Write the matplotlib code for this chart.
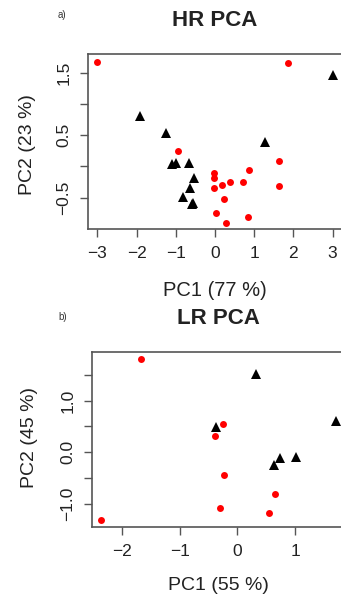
import numpy as np
import matplotlib
matplotlib.use("Agg")
import matplotlib.pyplot as plt

plt.rcParams['font.family'] = ['Liberation Sans', 'DejaVu Sans']

# HR PCA scores
hr_red_pc1 = [-3.0, 1.86, -0.94, 1.64, 1.64, 0.86, -0.03, -0.03, -0.03, 0.19, 0.39, 0.72, 0.22, 0.02, 0.29, 0.83]
hr_red_pc2 = [1.67, 1.66, 0.24, 0.08, -0.31, -0.06, -0.10, -0.18, -0.34, -0.30, -0.25, -0.25, -0.53, -0.74, -0.90, -0.81]
hr_blk_pc1 = [3.0, -1.92, -1.25, 1.27, -1.09, -0.99, -0.67, -0.53, -0.65, -0.81, -0.57, -0.58]
hr_blk_pc2 = [1.46, 0.80, 0.54, 0.39, 0.04, 0.06, 0.05, -0.19, -0.35, -0.49, -0.58, -0.60]

# LR PCA scores
lr_red_pc1 = [-1.67, -2.37, -0.25, -0.39, -0.24, -0.31, 0.65, 0.54]
lr_red_pc2 = [1.80, -1.30, 0.55, 0.32, -0.43, -1.08, -0.80, -1.18]
lr_blk_pc1 = [0.32, -0.37, 1.70, 0.73, 1.02, 0.63]
lr_blk_pc2 = [1.51, 0.49, 0.60, -0.12, -0.10, -0.25]

hr_xticks = [-3, -2, -1, 0, 1, 2, 3]
hr_yticks = [-0.5, 0.0, 0.5, 1.0, 1.5]
hr_ylabels = ['\u22120.5', '', '0.5', '', '1.5']
lr_xticks = [-2, -1, 0, 1]
lr_yticks = [-1.0, -0.5, 0.0, 0.5, 1.0, 1.5]
lr_ylabels = ['\u22121.0', '', '0.0', '', '1.0', '']

W, H = 341, 599
fig = plt.figure(figsize=(W / 100, H / 100), dpi=100)


def px_axes(l, t, r, b):
    return fig.add_axes([l / W, 1 - b / H, (r - l) / W, (b - t) / H])


def style(ax, xticks, yticks, ylabels):
    for s in ax.spines.values():
        s.set_color('#555555')
        s.set_linewidth(1.2)
    ax.set_xticks(xticks)
    ax.set_xticklabels([str(t).replace('-', '\u2212') for t in xticks])
    ax.set_yticks(yticks)
    ax.set_yticklabels(ylabels, rotation=90, va='center')
    ax.tick_params(direction='out', length=6, width=1, color='#555555',
                   labelsize=12.5, labelcolor='#222222', pad=6)


ax1 = px_axes(88, 54, 342, 229)
ax1.plot(hr_red_pc1, hr_red_pc2, 'o', color='#ff0000', markersize=5, markeredgewidth=0)
ax1.plot(hr_blk_pc1, hr_blk_pc2, '^', color='black', markersize=6.5, markeredgewidth=0)
ax1.set_xlim(-3.24, 3.24)
ax1.set_ylim(-1.004, 1.796)
style(ax1, hr_xticks, hr_yticks, hr_ylabels)
ax1.set_xlabel('PC1 (77 %)', fontsize=14.5, color='#222222')
ax1.xaxis.set_label_coords((215 - 88) / (342 - 88), -(290 - 229) / (229 - 54))
ax1.xaxis.label.set_va('center')
ax1.set_ylabel('PC2 (23 %)', fontsize=14, color='#222222')
ax1.yaxis.set_label_coords(-(88 - 27) / (342 - 88), (229 - 145) / (229 - 54))
ax1.yaxis.label.set_va('center')

ax2 = px_axes(92, 352, 357, 527)
ax2.plot(lr_red_pc1, lr_red_pc2, 'o', color='#ff0000', markersize=5, markeredgewidth=0)
ax2.plot(lr_blk_pc1, lr_blk_pc2, '^', color='black', markersize=6.5, markeredgewidth=0)
ax2.set_xlim(-2.52, 2.07)
ax2.set_ylim(-1.445, 1.94)
style(ax2, lr_xticks, lr_yticks, lr_ylabels)
ax2.set_xlabel('PC1 (55 %)', fontsize=14, color='#222222')
ax2.xaxis.set_label_coords((218 - 92) / (357 - 92), -(585 - 527) / (527 - 352))
ax2.xaxis.label.set_va('center')
ax2.set_ylabel('PC2 (45 %)', fontsize=14, color='#222222')
ax2.yaxis.set_label_coords(-(92 - 30) / (357 - 92), (527 - 438) / (527 - 352))
ax2.yaxis.label.set_va('center')

# titles and panel letters
fig.text(215 / W, 1 - 20 / H, 'HR PCA', fontsize=16, fontweight='bold',
         ha='center', va='center', color='#222222')
fig.text(218 / W, 1 - 318 / H, 'LR PCA', fontsize=16, fontweight='bold',
         ha='center', va='center', color='#222222')
fig.text(62 / W, 1 - 15 / H, 'a)', fontsize=7, ha='center', va='center', color='#333333')
fig.text(63 / W, 1 - 317 / H, 'b)', fontsize=7, ha='center', va='center', color='#333333')

fig.savefig('out.png', dpi=100)
